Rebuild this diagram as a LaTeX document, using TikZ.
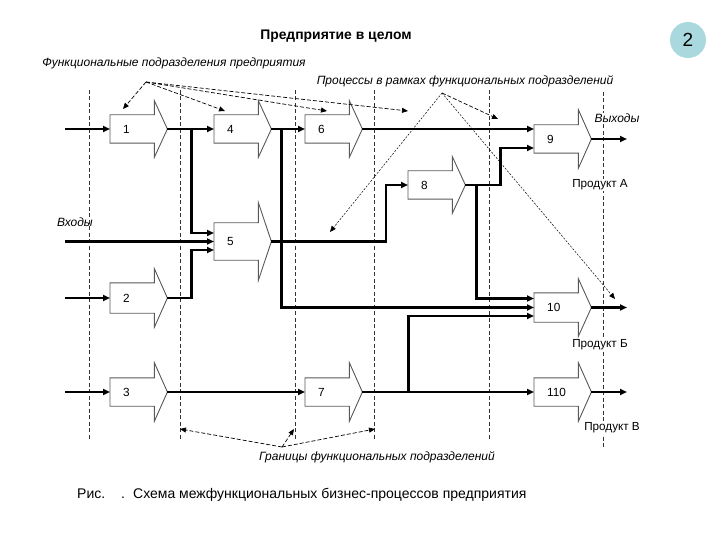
\documentclass[tikz,border=0pt]{standalone}
\usepackage{fontspec}
\setmainfont{Liberation Sans}
\usetikzlibrary{arrows.meta}
\definecolor{badge}{HTML}{A9D8DE}
\newcommand\procarrow[6]{%
  \node[blk,minimum height=#5pt] (#1) at (#2,#3) {\hspace*{13pt}#4};
  \draw[blkline] (#1.south west) -- (#1.north west) -- (#1.north east) -- ([yshift=#6pt]#1.north east) -- ([xshift=13pt]#1.east) coordinate (#1o) -- ([yshift=-#6pt]#1.south east) -- (#1.south east) -- cycle;
}
\begin{document}
\begin{tikzpicture}[x=1pt,y=-1pt,
  flow/.style={line width=2.3pt,-{Triangle[length=7pt,width=6pt]}},
  blk/.style={rectangle,anchor=west,minimum width=44pt,text width=44pt,inner xsep=0pt,inner ysep=0pt,align=left,font=\fontsize{11.8}{13}\selectfont},
  blkline/.style={draw=black!65,line width=0.9pt},
  bnd/.style={dash pattern=on 4pt off 2.5pt,line width=0.6pt,black!80},
  ann/.style={dash pattern=on 4pt off 2pt,line width=0.7pt,-{Triangle[length=6pt,width=5pt]}},
  annf/.style={dash pattern=on 2pt off 1.5pt,line width=0.5pt,-{Triangle[length=6pt,width=5pt]}},
  lbl/.style={font=\fontsize{12}{14}\selectfont\itshape,inner sep=0pt},
  prod/.style={font=\fontsize{11.7}{13}\selectfont,fill=white,inner sep=1pt}]
\useasboundingbox (0,0) rectangle (720,540);
% boundaries
\draw[bnd] (89,90) -- (89,439);
\draw[bnd] (180,90) -- (180,439);
\draw[bnd] (295,90) -- (295,439);
\draw[bnd] (374,90) -- (374,440);
\draw[bnd] (489,90) -- (489,440);
\draw[bnd] (603,92) -- (603,448);
% title and badge
\node[font=\fontsize{13.9}{16}\selectfont\bfseries] (title) at (336,36) {Предприятие в целом};
\node[circle,fill=badge,minimum size=36pt,inner sep=0pt,font=\fontsize{19}{21}\selectfont] (num) at (688,40) {2};
% process blocks
\procarrow{n1}{110}{129}{1}{28}{14}
\procarrow{n4}{214}{129}{4}{28}{14}
\procarrow{n6}{305}{129}{6}{28}{14}
\procarrow{n9}{534}{139}{9}{28}{15}
\procarrow{n8}{408}{185}{8}{28}{14}
\procarrow{n5}{214}{241.5}{5}{37}{20}
\procarrow{n2}{110}{298}{2}{30}{14}
\procarrow{n10}{534}{307.5}{10}{29}{14}
\procarrow{n3}{110}{392}{3}{28}{15}
\procarrow{n7}{305}{392}{7}{28}{15}
\procarrow{n110}{534}{392}{110}{28}{15}
% free ends
\coordinate (in1) at (65,129);
\coordinate (in5) at (65,241.5);
\coordinate (in2) at (65,298);
\coordinate (in3) at (65,392);
\coordinate (out9) at (627,139);
\coordinate (out10) at (627,307.5);
\coordinate (out110) at (627,392);
% flows
\draw[flow] (in1) -- (n1.west);
\draw[flow] (n1o) -- (n4.west);
\draw[flow] (n1o) ++(24,0) |- ([yshift=8.5pt]n5.west);
\draw[flow] (in5) -- (n5.west);
\draw[flow] (in2) -- (n2.west);
\draw[flow] (n2o) -- ++(24,0) |- ([yshift=-8.5pt]n5.west);
\draw[flow] (n4o) -- (n6.west);
\draw[flow] (n4o) ++(10,0) |- (n10.west);
\draw[flow] (n5o) -| ([xshift=-22pt]n8.west) -- (n8.west);
\draw[flow] (n6o) -- (n6o -| n9.west);
\draw[flow] (n8o) -- ++(35,0) |- ([yshift=-9pt]n9.west);
\draw[flow] (n8o) ++(11,0) |- ([yshift=9pt]n10.west);
\draw[flow] (in3) -- (n3.west);
\draw[flow] (n3o) -- (n7.west);
\draw[flow] (n7o) -- (n110.west);
\draw[flow] (n7o) ++(46,0) |- ([yshift=-8.5pt]n10.west);
\draw[flow] (n9o) -- (out9);
\draw[flow] (n10o) -- (out10);
\draw[flow] (n110o) -- (out110);
% labels
\node[lbl] (lf) at (174,63) {Функциональные подразделения предприятия};
\node[lbl] (lp) at (465,81) {Процессы в рамках функциональных подразделений};
\node[lbl] (lg) at (377,457) {Границы функциональных подразделений};
\node[lbl] (lin) at (75,222) {Входы};
\node[lbl,fill=white,inner sep=1pt] (lout) at (617,118) {Выходы};
\node[prod] (pa) at (600,185) {Продукт А};
\node[prod] (pb) at (600,345) {Продукт Б};
\node[prod] (pc) at (612,428) {Продукт В};
% annotation pointers
\coordinate (hf) at (146,82);
\coordinate (hp) at (442,93);
\coordinate (hg) at (282,447);
\coordinate (tf1) at (123,109);
\coordinate (tf2) at (225,111);
\coordinate (tf3) at (327,111);
\coordinate (tf4) at (408,111);
\coordinate (tp1) at (498,119);
\coordinate (tp2) at (330,232);
\coordinate (tp3) at (615,299);
\coordinate (tg1) at (180,429);
\coordinate (tg2) at (294,429);
\coordinate (tg3) at (375,429);
\draw[ann] (hf) -- (tf1);
\draw[ann] (hf) -- (tf2);
\draw[ann] (hf) -- (tf3);
\draw[ann] (hf) -- (tf4);
\draw[ann] (hp) -- (tp1);
\draw[annf] (hp) -- (tp2);
\draw[annf] (hp) -- (tp3);
\draw[ann] (hg) -- (tg1);
\draw[ann] (hg) -- (tg2);
\draw[ann] (hg) -- (tg3);
% caption
\node[anchor=west,font=\fontsize{14}{16}\selectfont,inner sep=0pt] (cap) at (77,495) {Рис.\hspace{16pt}.\hspace{8pt}Схема межфункциональных бизнес-процессов предприятия};
\end{tikzpicture}
\end{document}
